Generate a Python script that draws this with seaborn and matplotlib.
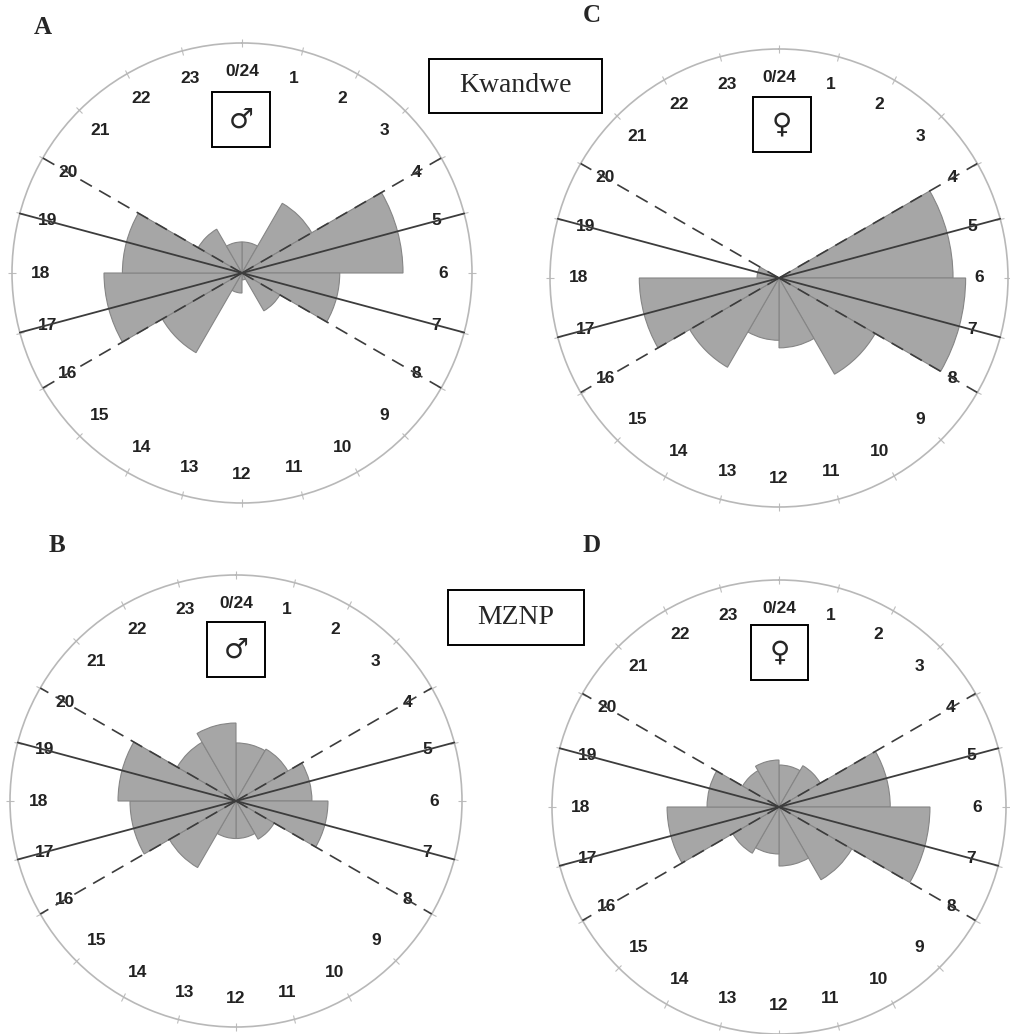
import numpy as np
import matplotlib.pyplot as plt
import seaborn as sns
from matplotlib.patches import Rectangle

# start hour of each 2-hour bin
bin_start = [0, 2, 4, 6, 8, 10, 12, 14, 16, 18, 20, 22]

# bar length relative to the outer circle (= 1)
kw_male = [0.135, 0.35, 0.70, 0.425, 0.19, 0.03, 0.087, 0.40, 0.60, 0.52, 0.22, 0.135]
kw_female = [0, 0, 0.76, 0.815, 0.485, 0.305, 0.272, 0.45, 0.61, 0.096, 0, 0]
mz_male = [0.257, 0.265, 0.336, 0.407, 0.195, 0.166, 0.166, 0.34, 0.469, 0.522, 0.30, 0.345]
mz_female = [0.185, 0.21, 0.49, 0.665, 0.37, 0.26, 0.207, 0.235, 0.493, 0.317, 0.185, 0.207]

hours = list(range(24))
hour_labels = ['0/24'] + [str(h) for h in range(1, 24)]
solid_hours = [5, 7, 17, 19]
dashed_hours = [4, 8, 16, 20]

sns.set_theme(style='white')
plt.rcParams['font.family'] = ['Liberation Sans', 'DejaVu Sans']

W, H = 1010, 1034
fig = plt.figure(figsize=(W / 100, H / 100), dpi=100)


def hour2theta(h):
    return np.asarray(h, dtype=float) * 2 * np.pi / 24


def fx(x):
    return x / W


def fy(y):
    return 1 - y / H


def add_box(x0, y0, x1, y1, text, size, family):
    fig.add_artist(Rectangle((fx(x0), fy(y1)), fx(x1) - fx(x0), fy(y0) - fy(y1),
                             transform=fig.transFigure, fill=False,
                             edgecolor='black', linewidth=1.4))
    fig.text(fx((x0 + x1) / 2), fy((y0 + y1) / 2), text, ha='center', va='center',
             fontsize=size, family=family)


def rose(cx, cy, r, values, letter, letter_xy, sex, sex_box):
    ax = fig.add_axes([fx(cx - r), fy(cy + r), 2 * r / W, 2 * r / H], projection='polar')
    ax.set_theta_zero_location('N')
    ax.set_theta_direction(-1)
    ax.set_ylim(0, 1)
    ax.grid(False)
    ax.set_yticks([])
    ax.set_xticks(hour2theta(hours))
    ax.set_xticklabels([])
    # outer-circle hour ticks
    ax.tick_params(axis='x', bottom=False, top=True, length=3, width=0.8,
                   color='#bdbdbd', direction='inout')
    ax.spines['polar'].set_color('#b8b8b8')
    ax.spines['polar'].set_linewidth(1.2)

    ax.bar(hour2theta(bin_start), values, width=2 * np.pi / 12, align='edge',
           color='#a6a6a6', edgecolor='#858585', linewidth=0.8, zorder=2)

    for h in solid_hours:
        ax.plot([hour2theta(h)] * 2, [0, 1], color='#3c3c3c', lw=1.3, zorder=3,
                clip_on=False)
    for h in dashed_hours:
        ax.plot([hour2theta(h)] * 2, [0, 1], color='#3c3c3c', lw=1.2, zorder=3,
                ls=(0, (8, 5)), clip_on=False)

    for h, lab in zip(hours, hour_labels):
        ax.text(hour2theta(h), 0.875, lab, ha='center', va='center', fontsize=12.5,
                fontweight='bold', color='#222222', zorder=1)

    fig.text(fx(letter_xy[0]), fy(letter_xy[1]), letter, ha='center', va='center',
             fontsize=18, fontweight='bold', family='Liberation Serif')
    add_box(*sex_box, sex, 20, 'DejaVu Sans')
    return ax


rose(242, 273, 230, kw_male, 'A', (43, 28), '♂', (212, 92, 270, 147))
rose(779, 278, 229, kw_female, 'C', (592, 15), '♀', (753, 97, 811, 152))
rose(236, 801, 226, mz_male, 'B', (57, 546), '♂', (207, 622, 265, 677))
rose(779, 807, 227, mz_female, 'D', (592, 546), '♀', (751, 625, 808, 680))

add_box(429, 59, 602, 113, 'Kwandwe', 20, 'Liberation Serif')
add_box(448, 590, 584, 645, 'MZNP', 20, 'Liberation Serif')

fig.savefig('out.png', dpi=100)
